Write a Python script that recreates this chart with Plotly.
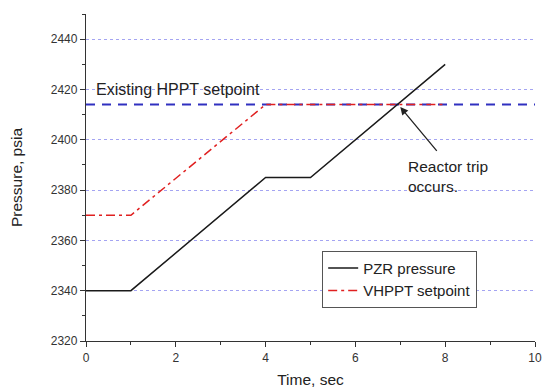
import plotly.graph_objects as go

time_pzr = [0, 1, 4, 5, 8]
pzr_pressure = [2340, 2340, 2385, 2385, 2430]
time_vhppt = [0, 1, 4, 8]
vhppt_setpoint = [2370, 2370, 2414, 2414]
time_hppt = [0, 10]
hppt_setpoint = [2414, 2414]
trip_time = 7.0
trip_pressure = 2414
arrow_tail_time = 7.84
arrow_tail_pressure = 2395

FONT = "Liberation Sans, Arial, sans-serif"

fig = go.Figure()
fig.add_trace(go.Scatter(x=time_hppt, y=hppt_setpoint, mode="lines",
                         line=dict(color="#3030c0", width=2, dash="9px,7px"),
                         showlegend=False))
fig.add_trace(go.Scatter(x=time_pzr, y=pzr_pressure, mode="lines", name="PZR pressure",
                         line=dict(color="#1a1a1a", width=1.5)))
fig.add_trace(go.Scatter(x=time_vhppt, y=vhppt_setpoint, mode="lines", name="VHPPT setpoint",
                         line=dict(color="#e02020", width=1.5, dash="9px,4px,3px,4px")))

fig.add_annotation(x=0.18, y=2420, text="Existing HPPT setpoint", showarrow=False,
                   xanchor="left", yanchor="middle", font=dict(size=16, color="#222", family=FONT))
fig.add_annotation(x=trip_time, y=trip_pressure - 1, ax=arrow_tail_time, ay=arrow_tail_pressure,
                   axref="x", ayref="y",
                   text="", showarrow=True, arrowhead=2, arrowsize=1.2, arrowwidth=1.3,
                   arrowcolor="#222")
fig.add_annotation(x=7.12, y=2393.5, text="Reactor trip<br>occurs.", showarrow=False,
                   xanchor="left", yanchor="top", align="left",
                   font=dict(size=15.5, color="#222", family=FONT))

fig.update_layout(
    width=543, height=389,
    margin=dict(l=86, r=8, t=14, b=48),
    paper_bgcolor="white", plot_bgcolor="white",
    font=dict(family=FONT, color="#333", size=12),
    legend=dict(x=0.526, y=0.276, xanchor="left", yanchor="top",
                bordercolor="#555", borderwidth=1, bgcolor="white",
                font=dict(size=15, color="#222"), tracegroupgap=0,
                itemwidth=30),
    xaxis=dict(range=[0, 10], dtick=2, showgrid=False, zeroline=False,
               showline=True, linecolor="#333", linewidth=1.3,
               ticks="outside", ticklen=5, tickcolor="#333",
               minor=dict(dtick=1, ticks="outside", ticklen=3, tickcolor="#333"),
               tickfont=dict(size=12, color="#333"), automargin=False,
               title=dict(text="Time, sec", font=dict(size=15.5, color="#222"), standoff=10)),
    yaxis=dict(range=[2320, 2450], dtick=20, tick0=2320, zeroline=False,
               showgrid=True, gridcolor="#a4a4f2", griddash="dot", gridwidth=1,
               showline=True, linecolor="#333", linewidth=1.3,
               ticks="outside", ticklen=5, tickcolor="#333",
               minor=dict(dtick=10, ticks="outside", ticklen=3, tickcolor="#333", showgrid=False),
               tickfont=dict(size=12, color="#333"), automargin=False,
               title=dict(text="Pressure, psia", font=dict(size=15.5, color="#222"), standoff=24)),
)

fig.write_html("out.html")
